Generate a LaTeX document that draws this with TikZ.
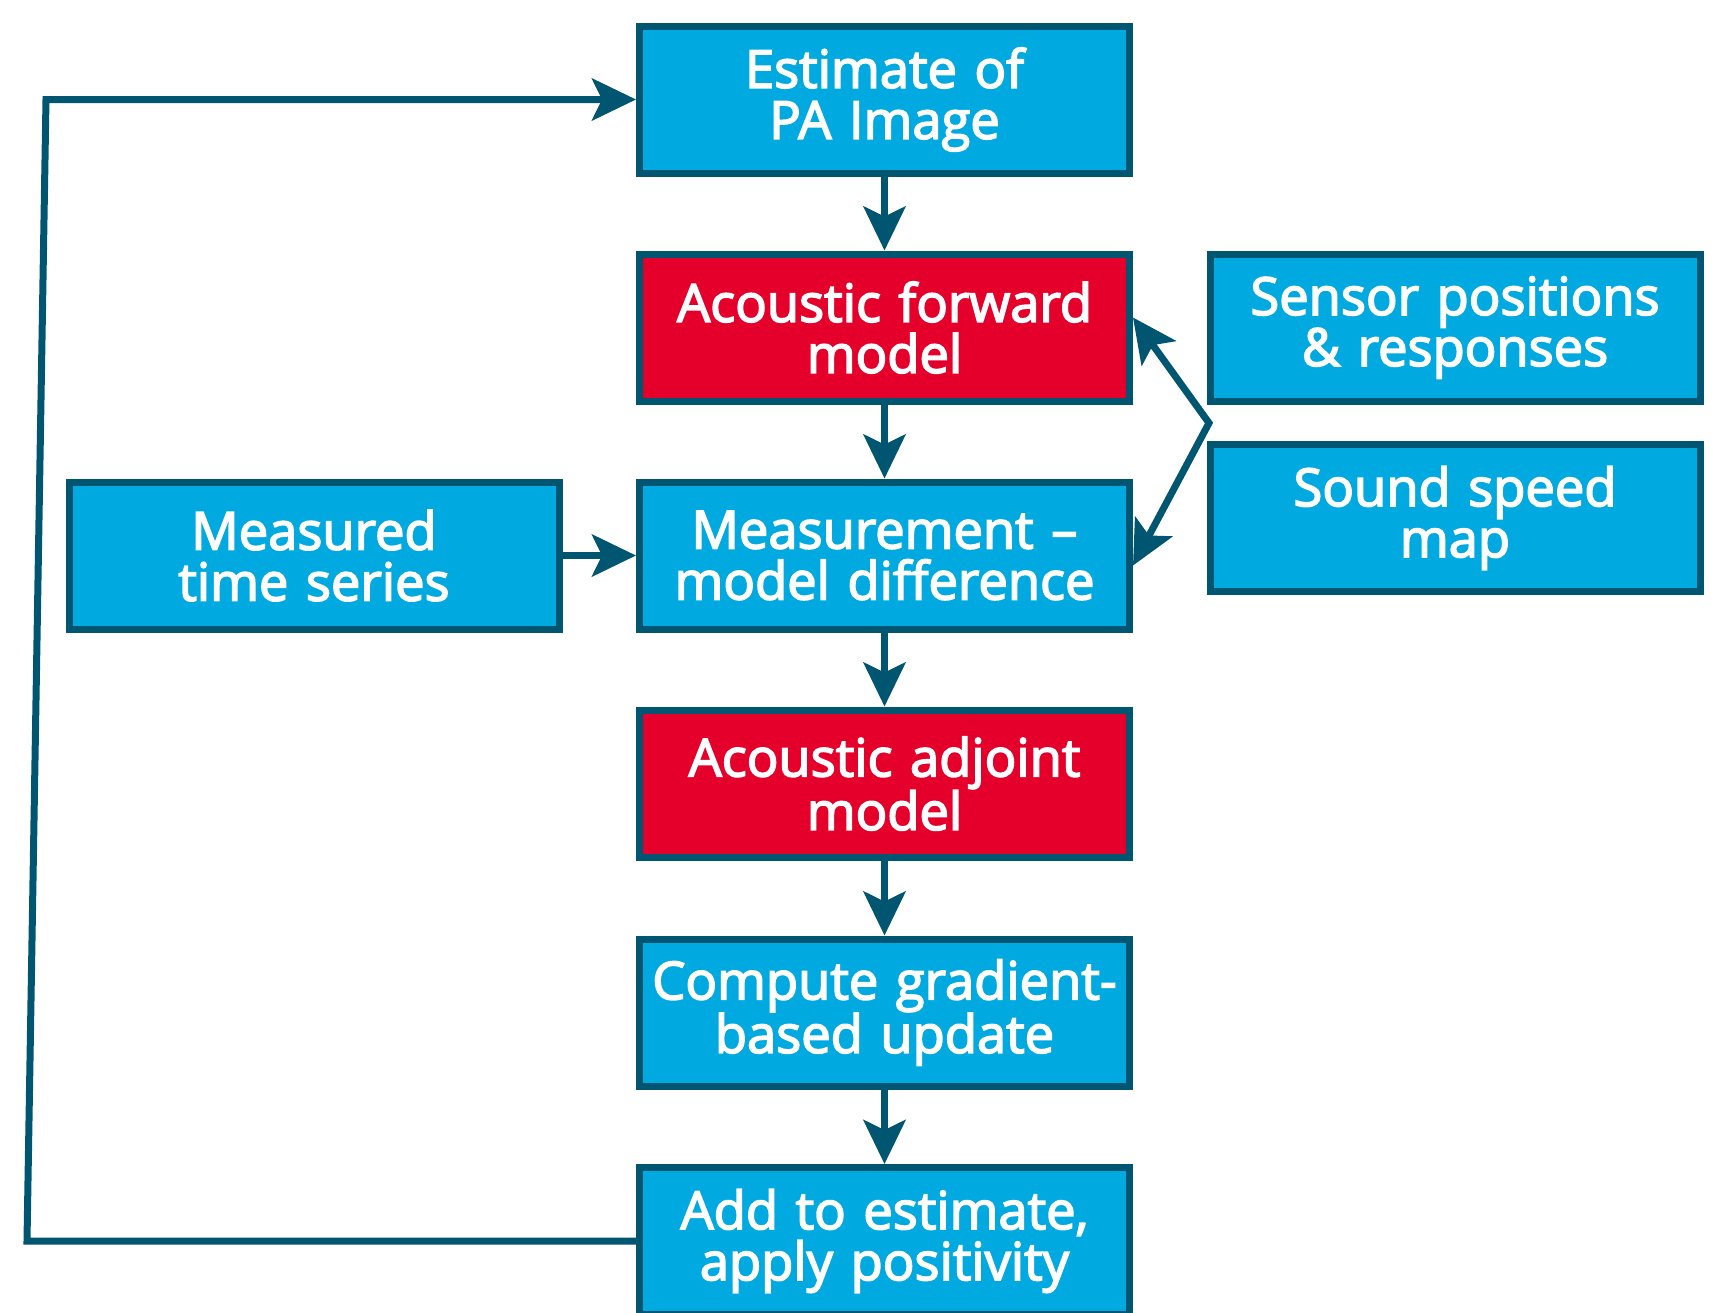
\documentclass[tikz,border=0pt]{standalone}
\usepackage{fontspec}
\setmainfont{Open Sans}
\newfontfamily\boxfont{Open Sans}[FakeBold=3]
\usetikzlibrary{arrows.meta,calc}
\definecolor{boxblue}{RGB}{0,169,224}
\definecolor{boxred}{RGB}{228,0,43}
\definecolor{edgeteal}{RGB}{0,86,112}
\begin{document}
\begin{tikzpicture}[x=1pt,y=-1pt,
  box/.style={draw=edgeteal,line width=7pt,fill=boxblue,minimum width=490pt,minimum height=147pt,
    text width=484pt,inner sep=0pt,align=center,text=white,font=\fontsize{52.5}{51}\boxfont},
  redbox/.style={box,fill=boxred},
  conn/.style={draw=edgeteal,line width=7pt},
  arr/.style={conn,-{Stealth[length=44pt,width=42pt,inset=10pt]}}]
\useasboundingbox (0,0) rectangle (1732,1312);
\node[box] (est) at (884.5,99.5) {Estimate of\\PA Image};
\node[redbox] (fwd) at (884.5,327.5) {Acoustic forward\\model};
\node[box] (diff) at (884.5,555.5) {Measurement –\\model difference};
\node[redbox] (adj) at (884.5,783.5) {Acoustic adjoint\\model};
\node[box] (grad) at (884.5,1012.5) {Compute gradient-\\based update};
\node[box] (add) at (884.5,1241) {Add to estimate,\\apply positivity};
\node[box] (meas) at (314,555.5) {Measured\\time series};
\node[box] (sens) at (1455,327.5) {Sensor positions\\\&{} responses};
\node[box] (snd) at (1455,518) {Sound speed\\map};
\draw[arr] (est) -- (fwd);
\draw[arr] (fwd) -- (diff);
\draw[arr] (diff) -- (adj);
\draw[arr] (adj) -- (grad);
\draw[arr] (grad) -- (add);
\draw[arr] (meas) -- (diff);
\coordinate (junc) at (1209,423);
\coordinate (ftip) at ($(fwd.east)+(0,-10)$);
\coordinate (dtip) at ($(diff.east)+(0,10)$);
\draw[conn,{Stealth[length=44pt,width=42pt,inset=10pt]}-{Stealth[length=44pt,width=42pt,inset=10pt]}] (ftip) -- (junc) -- (dtip);
\coordinate (bl) at (27,1241);
\coordinate (tl) at (46,99.5);
\draw[arr,line join=miter] (add.west) -- (bl) -- (tl) -- (est.west);
\end{tikzpicture}
\end{document}
